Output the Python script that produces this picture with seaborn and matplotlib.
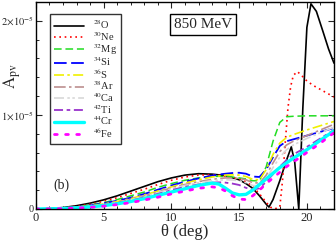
import numpy as np
import pandas as pd
import matplotlib
matplotlib.use('Agg')
import matplotlib.pyplot as plt
import seaborn as sns
from matplotlib.ticker import MultipleLocator, FixedLocator, FixedFormatter

# ---- data (A_pv in units of 1e-5) ----
theta_O = [0, 1, 2, 3, 4, 5, 6, 7, 8, 9, 10, 11, 12, 13, 14, 15, 15.5, 16, 16.5, 17, 17.2,
           17.5, 18, 18.5, 18.85, 19.1, 19.4, 19.7, 20, 20.3, 20.7, 21.2, 21.6, 22]
apv_O = [0, 0.004, 0.015, 0.035, 0.062, 0.097, 0.14, 0.19, 0.24, 0.29, 0.33, 0.36, 0.375, 0.37,
         0.355, 0.31, 0.27, 0.22, 0.14, 0.05, 0.02, 0.1, 0.3, 0.52, 0.66, 0.5, 0.0, 1.07, 1.93,
         2.18, 2.1, 1.88, 1.7, 1.55]

theta_Ne = [0, 1, 2, 3, 4, 5, 6, 7, 8, 9, 10, 11, 12, 13, 14, 15, 15.5, 16, 16.5, 17, 17.3,
            17.6, 18.0, 18.2, 18.4, 18.6, 18.8, 19.0, 19.3, 19.6, 20, 20.5, 21, 21.5, 22]
apv_Ne = [0, 0.003, 0.012, 0.028, 0.05, 0.082, 0.12, 0.165, 0.21, 0.26, 0.305, 0.34, 0.36, 0.365,
          0.35, 0.32, 0.29, 0.24, 0.16, 0.07, 0.02, 0.0, 0.02, 0.3, 0.7, 1.07, 1.3, 1.42, 1.46,
          1.42, 1.36, 1.31, 1.27, 1.23, 1.19]

theta = [0, 1, 2, 3, 4, 5, 6, 7, 8, 9, 10, 11, 12, 13, 13.5, 14, 14.5, 15, 15.5, 16, 16.5,
         17, 17.5, 18, 18.5, 19, 20, 21, 22]
apv_Mg = [0, 0.003, 0.01, 0.022, 0.042, 0.068, 0.1, 0.14, 0.18, 0.23, 0.27, 0.305, 0.33, 0.345,
          0.347, 0.345, 0.34, 0.33, 0.32, 0.3, 0.3, 0.45, 0.72, 0.92, 0.98, 0.985, 0.99, 0.99, 0.99]
apv_Si = [0, 0.002, 0.009, 0.02, 0.037, 0.06, 0.088, 0.12, 0.16, 0.205, 0.25, 0.29, 0.325, 0.355,
          0.366, 0.375, 0.382, 0.385, 0.375, 0.345, 0.34, 0.42, 0.55, 0.67, 0.72, 0.74, 0.78,
          0.82, 0.86]
apv_S = [0, 0.002, 0.008, 0.018, 0.033, 0.053, 0.08, 0.11, 0.15, 0.19, 0.235, 0.275, 0.31, 0.34,
         0.35, 0.36, 0.362, 0.36, 0.345, 0.315, 0.31, 0.42, 0.58, 0.7, 0.76, 0.79, 0.84, 0.885, 0.93]
apv_Ar = [0, 0.002, 0.007, 0.016, 0.03, 0.048, 0.073, 0.103, 0.14, 0.18, 0.225, 0.26, 0.29, 0.315,
          0.323, 0.33, 0.33, 0.325, 0.31, 0.28, 0.275, 0.36, 0.49, 0.61, 0.68, 0.72, 0.78, 0.84, 0.9]
apv_Ca = [0, 0.002, 0.006, 0.015, 0.028, 0.044, 0.068, 0.097, 0.132, 0.172, 0.215, 0.25, 0.28, 0.3,
          0.306, 0.31, 0.308, 0.3, 0.28, 0.25, 0.245, 0.32, 0.44, 0.55, 0.63, 0.68, 0.75, 0.81, 0.87]
apv_Ti = [0, 0.002, 0.006, 0.013, 0.025, 0.04, 0.062, 0.09, 0.122, 0.16, 0.2, 0.235, 0.26, 0.28,
          0.283, 0.28, 0.27, 0.255, 0.225, 0.205, 0.22, 0.29, 0.37, 0.45, 0.52, 0.58, 0.66, 0.75, 0.84]
apv_Cr = [0, 0.001, 0.005, 0.012, 0.022, 0.036, 0.055, 0.08, 0.11, 0.145, 0.18, 0.215, 0.25, 0.275,
          0.265, 0.22, 0.17, 0.15, 0.155, 0.2, 0.26, 0.32, 0.38, 0.44, 0.49, 0.54, 0.63, 0.73, 0.83]
apv_Fe = [0, 0.001, 0.004, 0.01, 0.018, 0.03, 0.047, 0.068, 0.095, 0.125, 0.16, 0.19, 0.22, 0.235,
          0.225, 0.19, 0.14, 0.105, 0.1, 0.14, 0.2, 0.27, 0.33, 0.39, 0.45, 0.5, 0.6, 0.7, 0.81]

labels = [r'$^{28}$O', r'$^{30}$Ne', r'$^{32}$Mg', r'$^{34}$Si', r'$^{36}$S',
          r'$^{38}$Ar', r'$^{40}$Ca', r'$^{42}$Ti', r'$^{44}$Cr', r'$^{46}$Fe']

series = [(theta_O, apv_O), (theta_Ne, apv_Ne), (theta, apv_Mg), (theta, apv_Si),
          (theta, apv_S), (theta, apv_Ar), (theta, apv_Ca), (theta, apv_Ti),
          (theta, apv_Cr), (theta, apv_Fe)]

colors = ['black', 'red', '#22dd22', 'blue', '#f0f000', '#bc8f8f', '#d8d8d8',
          '#9932cc', 'cyan', 'magenta']
widths = [1.2, 1.2, 1.1, 1.3, 1.2, 1.2, 1.2, 1.3, 2.4, 2.0]
dashes = [None, (1, 2.2), (5, 2.5), (7, 2.5), (6, 2, 1.5, 2), (7, 2, 1.5, 2),
          (6, 2, 1.5, 1.5, 1.5, 2), (5, 2, 2, 2), None, (1, 3)]

sns.set_theme(style='ticks')
plt.rcParams['font.family'] = ['Liberation Serif', 'DejaVu Serif']
plt.rcParams['mathtext.fontset'] = 'stix'

fig = plt.figure(figsize=(3.36, 2.43), dpi=100)
ax = fig.add_axes([0.107, 0.14, 0.887, 0.852])

for (x, y), lab, c, lw, d in zip(series, labels, colors, widths, dashes):
    df = pd.DataFrame({'theta': x, 'apv': np.array(y) * 1e-5})
    sns.lineplot(data=df, x='theta', y='apv', ax=ax, color=c, lw=lw,
                 label=lab, estimator=None, sort=False)
    ln = ax.get_lines()[-1]
    if d is not None:
        ln.set_dashes(d)
    if lab == r'$^{46}$Fe':
        ln.set_dash_capstyle('round')

ax.set_xlim(0, 22)
ax.set_ylim(0, 2.2e-5)
ax.xaxis.set_major_locator(MultipleLocator(5))
ax.xaxis.set_minor_locator(MultipleLocator(1))
ax.yaxis.set_major_locator(FixedLocator([0, 1e-5, 2e-5]))
ax.yaxis.set_major_formatter(FixedFormatter(['0', r'$1\!\times\!10^{-5}$', r'$2\!\times\!10^{-5}$']))
ax.yaxis.set_minor_locator(MultipleLocator(2e-6))
ax.tick_params(which='both', direction='in', top=True, right=True, pad=2)
ax.tick_params(axis='x', labelsize=9)
ax.tick_params(axis='y', labelsize=7.5, pad=1.5)
ax.tick_params(which='major', length=4, width=0.8)
ax.tick_params(which='minor', length=2.5, width=0.7)
for s in ax.spines.values():
    s.set_linewidth(1.0)
    s.set_color('black')

ax.set_xlabel('\u03b8 (deg)', fontsize=12, labelpad=0)
ax.set_ylabel(r'$\mathrm{A}_{\mathrm{pv}}$', fontsize=12)
ax.yaxis.set_label_coords(-0.045, 0.64)

leg = ax.legend(loc='upper left', bbox_to_anchor=(0.047, 0.94), fontsize=7.5,
                frameon=True, fancybox=False, handlelength=2.9, handletextpad=0.8,
                labelspacing=-0.12, borderpad=0.4, borderaxespad=0)
leg.get_frame().set_edgecolor('black')
leg.get_frame().set_linewidth(1.0)

ax.text(0.56, 0.89, '850 MeV', transform=ax.transAxes, fontsize=11, ha='center', va='center',
        bbox=dict(boxstyle='square,pad=0.25', fc='white', ec='black', lw=1.0))
ax.text(0.087, 0.116, '(b)', transform=ax.transAxes, fontsize=10, ha='center', va='center')

fig.savefig('out.png', dpi=100)
